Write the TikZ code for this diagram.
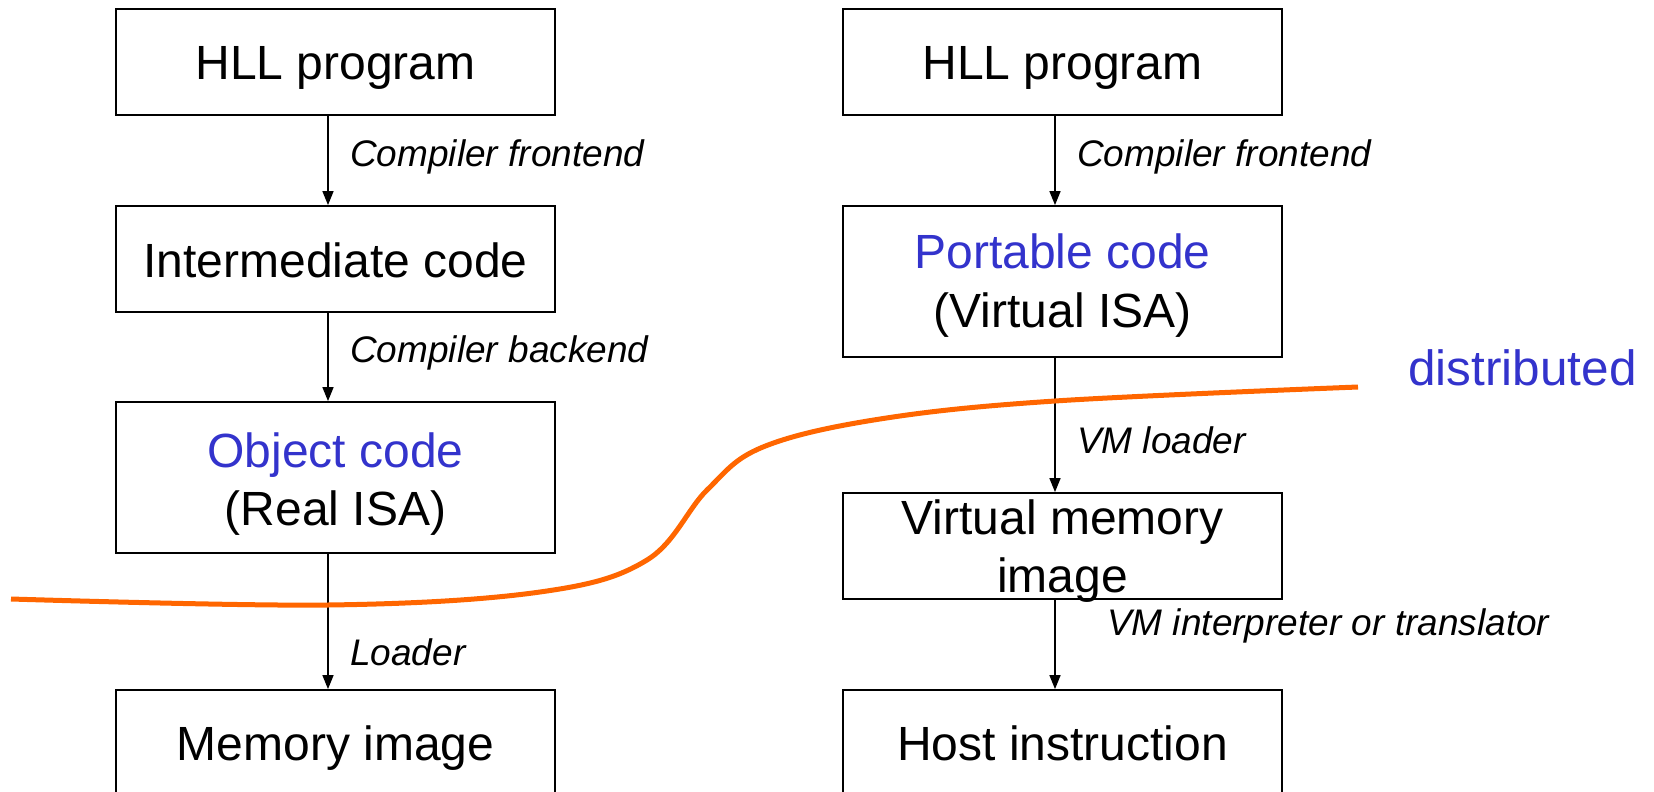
\documentclass[tikz,border=0pt]{standalone}
\usepackage{fontspec}
\setmainfont{Liberation Sans}
\usetikzlibrary{arrows.meta}
\definecolor{codeblue}{HTML}{3333CC}
\definecolor{cutorange}{HTML}{FF6600}

\begin{document}
\begin{tikzpicture}[x=1pt,y=-1pt,
  box/.style={draw=black, line width=1.8pt, minimum width=439pt, inner sep=0pt},
  big/.style={font=\fontsize{48}{58}\selectfont, inner sep=0pt, anchor=base},
  lab/.style={font=\fontsize{37}{44}\selectfont\itshape, inner sep=0pt, anchor=base west},
  flow/.style={line width=1.5pt, -{Triangle[length=14pt,width=11pt]}},
  cut/.style={cutorange, line width=5pt}]

\useasboundingbox (0,0) rectangle (1654,792);

% arrow columns
\coordinate (lx) at (328,0);
\coordinate (rx) at (1055,0);

% left column: native compilation
\node[box, minimum height=106pt] (hllA)   at (335.5,62)    {};
\node[box, minimum height=106pt] (interA) at (335.5,259)   {};
\node[box, minimum height=151pt] (objA)   at (335.5,477.5) {};
\node[box, minimum height=110pt] (memA)   at (335.5,745)   {};

\node[big] (hllAt)   at (335.5,80)  {HLL program};
\node[big] (interAt) at (335.5,277) {Intermediate code};
\node[big, text=codeblue] (objAt1) at (335.5,467) {Object code};
\node[big] (objAt2)  at (335.5,525) {(Real ISA)};
\node[big] (memAt)   at (335.5,760) {Memory image};

% right column: virtual machine path
\node[box, minimum height=106pt] (hllB)  at (1062.5,62)    {};
\node[box, minimum height=151pt] (portB) at (1062.5,281.5) {};
\node[box, minimum height=106pt] (vmB)   at (1062.5,546)   {};
\node[box, minimum height=110pt] (hostB) at (1062.5,745)   {};

\node[big] (hllBt)  at (1062.5,80)  {HLL program};
\node[big, text=codeblue] (portBt1) at (1062.5,268) {Portable code};
\node[big] (portBt2) at (1062.5,327) {(Virtual ISA)};
\node[big] (vmBt1)  at (1062.5,534) {Virtual memory};
\node[big] (vmBt2)  at (1062.5,592) {image};
\node[big] (hostBt) at (1062.5,760) {Host instruction};

% connectors
\draw[flow] (hllA.south -| lx)   -- (interA.north -| lx);
\draw[flow] (interA.south -| lx) -- (objA.north -| lx);
\draw[flow] (objA.south -| lx)   -- (memA.north -| lx);
\draw[flow] (hllB.south -| rx)   -- (portB.north -| rx);
\draw[flow] (portB.south -| rx)  -- (vmB.north -| rx);
\draw[flow] (vmB.south -| rx)    -- (hostB.north -| rx);

% step labels
\node[lab] (l1) at (350,166)  {Compiler frontend};
\node[lab] (l2) at (350,362)  {Compiler backend};
\node[lab] (l3) at (350,665)  {Loader};
\node[lab] (r1) at (1077,166) {Compiler frontend};
\node[lab] (r2) at (1077,453) {VM loader};
\node[lab] (r3) at (1107,635) {VM interpreter or translator};

% distribution boundary
\draw[cut] plot[smooth, tension=0.6] coordinates {
  (11,599) (328,605) (540,592) (647,560) (707,490) (763,447)
  (880,419) (1055,401) (1358,387)};
\node[big, font=\fontsize{49.5}{58}\selectfont, text=codeblue, anchor=base west] (dist) at (1408,385) {distributed};
\end{tikzpicture}
\end{document}
